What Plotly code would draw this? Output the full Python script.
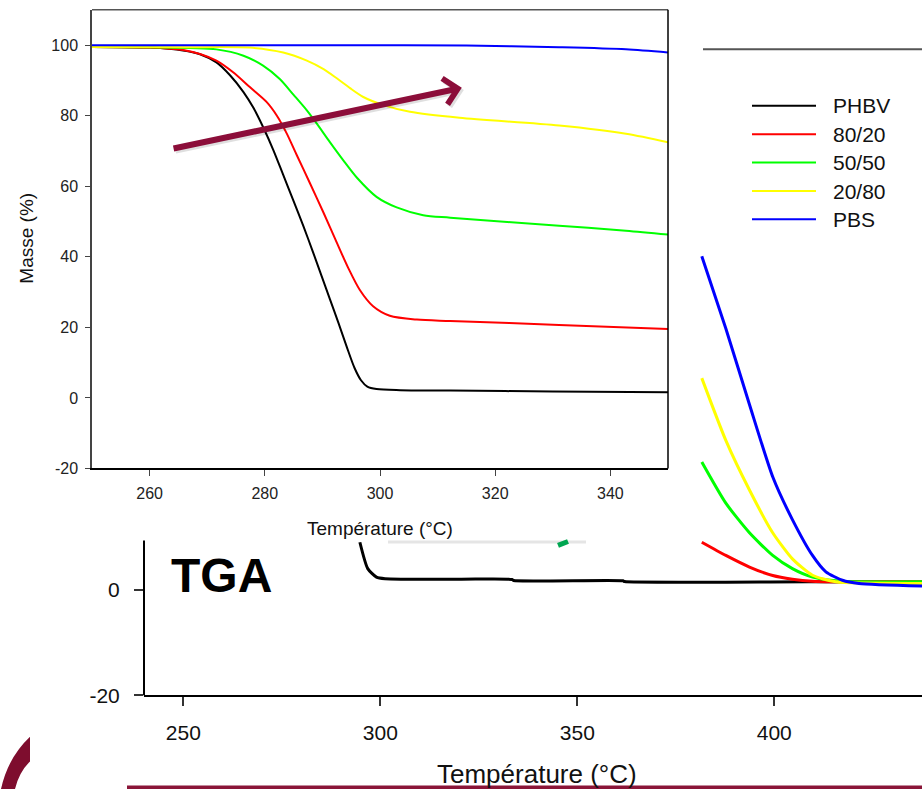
import plotly.graph_objects as go

W, H = 922, 800
FONT = "Liberation Sans, Arial, sans-serif"

series_names = ["PHBV", "80/20", "50/50", "20/80", "PBS"]
series_colors = ["#000000", "#FF0000", "#00FF00", "#FFFF00", "#0000FF"]

# ---------------- inset (zoom 250-350 °C) ----------------
inset_T_phbv = [250, 260.1, 265.8, 268.75, 271.6, 274.0, 276.3, 278.0, 279.7, 281.5, 283.2,
                285.0, 286.7, 288.4, 289.9, 291.3, 292.8, 294.2, 295.6, 296.7, 297.8, 299.4,
                303.5, 312.2, 330, 350]
inset_M_phbv = [99.5, 99.3, 98.5, 97.4, 95.1, 91.4, 86.7, 82.3, 76.8, 70.2, 63.2,
                55.8, 48.7, 41.2, 34.4, 28.0, 21.2, 14.6, 8.4, 5.0, 3.2, 2.5,
                2.2, 2.1, 1.8, 1.6]

inset_T_8020 = [250, 260.1, 265.8, 268.75, 271.6, 274.5, 277.4, 280.3, 282.1, 283.8, 285.5,
                287.8, 290.2, 292.5, 294.5, 296.5, 298.8, 301.7, 306.4, 312.2, 331.1, 350]
inset_M_8020 = [99.5, 99.3, 98.6, 97.5, 95.6, 92.3, 88.1, 83.9, 80.0, 75.0, 69.0,
                61.0, 52.5, 44.0, 36.8, 30.6, 26.0, 23.3, 22.2, 21.8, 20.7, 19.5]

inset_T_5050 = [250, 260, 271.6, 276.3, 279.7, 282.6, 285.0, 287.3, 289.0, 291.3, 293.6,
                296.0, 299.4, 302.9, 307.5, 312.2, 331.1, 342.7, 350]
inset_M_5050 = [99.5, 99.4, 98.8, 97.0, 94.2, 90.4, 85.9, 81.5, 77.8, 72.5, 67.4,
                62.4, 57.0, 54.0, 51.8, 51.1, 48.8, 47.4, 46.3]

inset_T_2080 = [250, 265, 277.4, 283.2, 287.3, 290.2, 292.5, 294.8, 297.1, 300.6, 305.2,
                313.8, 331.1, 342.7, 350]
inset_M_2080 = [99.5, 99.4, 99.3, 97.9, 95.6, 93.2, 90.6, 87.8, 85.3, 83.0, 81.1,
                79.4, 77.2, 74.9, 72.5]

inset_T_pbs = [250, 300, 315, 331.1, 342.7, 350]
inset_M_pbs = [100, 100, 99.9, 99.4, 98.8, 97.9]

# ---------------- background chart (visible parts only) ----------------
bg_T_phbv = [294.8, 296.8, 299.0, 301.2, 320.2, 333.4, 333.8, 361.6, 362.0, 409.4, 437.5]
bg_M_phbv = [9.0, 4.0, 2.4, 2.1, 2.0, 1.95, 1.75, 1.7, 1.55, 1.5, 1.4]

bg_T_8020 = [381.6, 387.7, 393.7, 399.6, 404.6, 409.7, 415.0, 437.5]
bg_M_8020 = [9.0, 6.5, 4.3, 2.7, 2.0, 1.6, 1.5, 1.5]

bg_T_5050 = [381.6, 387.7, 393.7, 399.6, 404.6, 409.7, 417.3, 437.5]
bg_M_5050 = [24.2, 16.4, 10.8, 6.5, 4.0, 2.4, 1.6, 1.5]

bg_T_2080 = [381.6, 387.7, 393.7, 399.6, 404.6, 409.7, 415.6, 437.5]
bg_M_2080 = [40.1, 28.3, 18.9, 10.8, 5.85, 2.75, 1.5, 1.2]

bg_T_pbs = [381.6, 387.7, 393.7, 399.6, 404.6, 409.7, 413.1, 417.3, 421.5, 437.5]
bg_M_pbs = [63.2, 49.5, 35.1, 21.4, 13.3, 6.5, 3.4, 1.8, 1.2, 0.7]

inset_x_ticks = [260, 280, 300, 320, 340]
inset_y_ticks = [-20, 0, 20, 40, 60, 80, 100]
inset_y_ticktext = ["-20", "0", "20", "40", "60", "80", "100"]
bg_x_ticks = [250, 300, 350, 400]
bg_y_ticks = [-20, 0]
bg_y_ticktext = ["-20", "0"]

# arrow (inset data coords)
arrow_start = (263.9, 70.6)
arrow_tip = (314.2, 87.9)

MAROON = "#8C0E3A"


def fx(px):
    return px / W


def fy(py):
    return 1 - py / H


fig = go.Figure()

bg_series = [(bg_T_phbv, bg_M_phbv), (bg_T_8020, bg_M_8020), (bg_T_5050, bg_M_5050),
             (bg_T_2080, bg_M_2080), (bg_T_pbs, bg_M_pbs)]
for (t, m), name, col in zip(bg_series, series_names, series_colors):
    fig.add_trace(go.Scatter(x=t, y=m, mode="lines", name=name, showlegend=False,
                             line=dict(color=col, width=3, shape="spline", smoothing=0.6),
                             xaxis="x", yaxis="y", hoverinfo="skip"))

inset_series = [(inset_T_phbv, inset_M_phbv), (inset_T_8020, inset_M_8020),
                (inset_T_5050, inset_M_5050), (inset_T_2080, inset_M_2080),
                (inset_T_pbs, inset_M_pbs)]
for (t, m), name, col in zip(inset_series, series_names, series_colors):
    fig.add_trace(go.Scatter(x=t, y=m, mode="lines", name=name, showlegend=False,
                             line=dict(color=col, width=2, shape="spline", smoothing=0.8),
                             xaxis="x2", yaxis="y2"))

tickfont_bg = dict(family=FONT, size=21, color="#111")
tickfont_in = dict(family=FONT, size=16, color="#222")

shapes = [
    # background y axis (visible part)
    dict(type="line", xref="paper", yref="paper", x0=fx(144), x1=fx(144), y0=fy(548), y1=fy(705),
         line=dict(color="#000", width=2)),
    # background top frame line
    dict(type="line", xref="paper", yref="paper", x0=fx(703), x1=1.0, y0=fy(50), y1=fy(50),
         line=dict(color="#555", width=2)),
    # inset top frame (gray) and right frame (black)
    dict(type="line", xref="x2 domain", yref="y2 domain", x0=0, x1=1, y0=1, y1=1,
         line=dict(color="#555", width=1.5)),
    dict(type="line", xref="x2 domain", yref="y2 domain", x0=1, x1=1, y0=0, y1=1,
         line=dict(color="#000", width=1.5)),
    # inset shadow
    dict(type="line", xref="paper", yref="paper", x0=fx(388), x1=fx(586), y0=fy(549.5), y1=fy(549.5),
         line=dict(color="rgba(0,0,0,0.10)", width=3)),
    # green arrow fragment of background chart
    dict(type="line", xref="paper", yref="paper", x0=fx(558), x1=fx(568), y0=fy(553), y1=fy(549),
         line=dict(color="#00A651", width=5)),
    # slide decoration: bottom bar
    dict(type="rect", xref="paper", yref="paper", x0=fx(127), x1=1.0, y0=fy(796.5), y1=0.0,
         line=dict(width=0), fillcolor="#8A1538", layer="above"),
    # slide decoration: crescent bottom-left
    dict(type="path", xref="paper", yref="paper",
         path=(f"M {fx(30)},{fy(747)} Q {fx(8)},{fy(768)} {fx(1)},{fy(800)} "
               f"L {fx(15)},{fy(800)} Q {fx(19)},{fy(783)} {fx(30)},{fy(772)} Z"),
         line=dict(width=0), fillcolor="#7E0D2E", layer="above"),
]

annotations = [
    # soft shadow of the arrow
    dict(x=arrow_tip[0] + 0.35, y=arrow_tip[1] - 0.6, ax=arrow_start[0] + 0.35,
         ay=arrow_start[1] - 0.6, xref="x2", yref="y2", axref="x2", ayref="y2", text="",
         showarrow=True, arrowhead=4, arrowsize=0.85, arrowwidth=6,
         arrowcolor="rgba(0,0,0,0.12)", standoff=0),
    dict(x=arrow_tip[0], y=arrow_tip[1], ax=arrow_start[0], ay=arrow_start[1],
         xref="x2", yref="y2", axref="x2", ayref="y2", text="", showarrow=True,
         arrowhead=4, arrowsize=0.85, arrowwidth=6, arrowcolor=MAROON, standoff=0),
    dict(x=fx(26.5), y=fy(241.5), xref="paper", yref="paper", text="Masse (%)", textangle=-90,
         showarrow=False, font=dict(family=FONT, size=19, color="#111"),
         xanchor="center", yanchor="middle"),
    dict(x=fx(380), y=fy(536), xref="paper", yref="paper", text="Température (°C)",
         showarrow=False, font=dict(family=FONT, size=19, color="#111"),
         xanchor="center", yanchor="middle"),
    dict(x=fx(221), y=fy(584), xref="paper", yref="paper", text="<b>TGA</b>",
         showarrow=False, font=dict(family=FONT, size=48, color="#000"),
         xanchor="center", yanchor="middle"),
    dict(x=fx(536.5), y=fy(785), xref="paper", yref="paper", text="Température (°C)",
         showarrow=False, font=dict(family=FONT, size=26, color="#111"),
         xanchor="center", yanchor="middle"),
]

# manual legend of the background chart
legend_rows_py = [107.3, 136, 164.7, 193.7, 222.3]
for name, col, py in zip(series_names, series_colors, legend_rows_py):
    shapes.append(dict(type="line", xref="paper", yref="paper", x0=fx(752), x1=fx(816),
                       y0=fy(py), y1=fy(py), line=dict(color=col, width=2)))
    annotations.append(dict(x=fx(831), y=fy(py), xref="paper", yref="paper", text=name,
                            showarrow=False, xanchor="left", yanchor="middle",
                            font=dict(family=FONT, size=21, color="#111")))

fig.update_layout(
    width=W, height=H, margin=dict(l=0, r=0, t=0, b=0),
    paper_bgcolor="white", plot_bgcolor="white", showlegend=False,
    font=dict(family=FONT),
    xaxis=dict(domain=[fx(144), 1.0], range=[240, 437.5], anchor="y",
               showline=True, linecolor="#000", linewidth=2, ticks="outside", ticklen=9,
               tickwidth=1.5, tickcolor="#333", tickvals=bg_x_ticks, tickfont=tickfont_bg,
               ticklabelstandoff=8, showgrid=False, zeroline=False, fixedrange=True),
    yaxis=dict(domain=[fy(705), fy(50)], range=[-20, 102.4], anchor="x",
               showline=False, ticks="outside", ticklen=9, tickwidth=1.5, tickcolor="#333",
               tickvals=bg_y_ticks, ticktext=bg_y_ticktext, tickfont=tickfont_bg,
               ticklabelstandoff=10, showgrid=False, zeroline=False, fixedrange=True),
    xaxis2=dict(domain=[fx(92), fx(668)], range=[250, 350], anchor="y2",
                showline=True, linecolor="#000", linewidth=1.5, ticks="outside", ticklen=6,
                tickwidth=1, tickcolor="#444", tickvals=inset_x_ticks, tickfont=tickfont_in,
                ticklabelstandoff=4, showgrid=False, zeroline=False, fixedrange=True),
    yaxis2=dict(domain=[fy(475), fy(10)], range=[-20, 110], anchor="x2",
                showline=True, linecolor="#444", linewidth=1.5, ticks="outside", ticklen=5,
                tickwidth=1, tickcolor="#444", tickvals=inset_y_ticks, ticktext=inset_y_ticktext,
                tickfont=tickfont_in, ticklabelstandoff=4, showgrid=False, zeroline=False,
                fixedrange=True),
    shapes=shapes,
    annotations=annotations,
)

fig.write_html(
    "out.html",
    config={"displayModeBar": False},
    post_script=(
        "document.documentElement.style.margin='0';"
        "document.body.style.margin='0';document.body.style.padding='0';"
        "document.body.style.overflow='hidden';"
    ),
)
